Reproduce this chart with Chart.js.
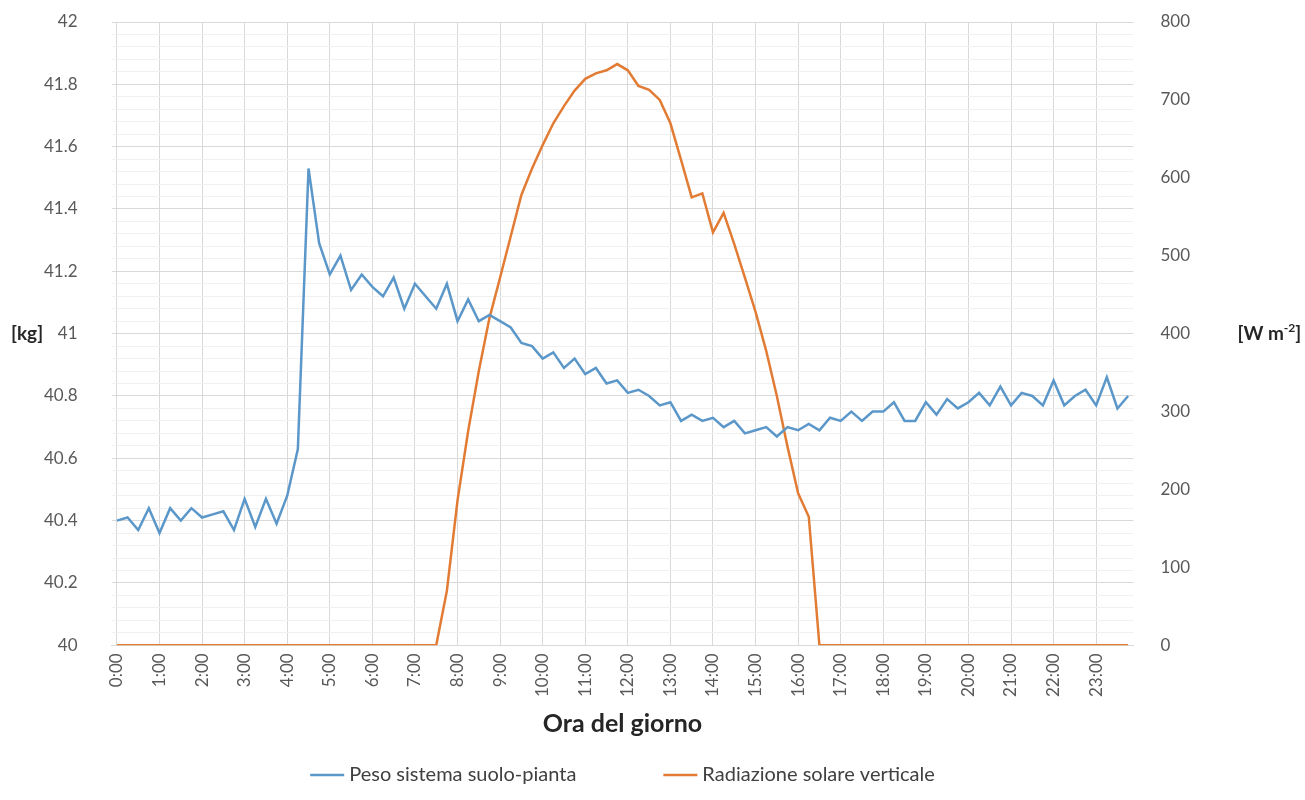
<!DOCTYPE html>
<html>
<head>
<meta charset="utf-8">
<script src="https://cdn.jsdelivr.net/npm/chart.js@4.4.1/dist/chart.umd.min.js"></script>
<style>
  html, body { margin: 0; padding: 0; background: #fff; }
  #wrap { width: 1305px; height: 800px; }
</style>
</head>
<body>
<div id="wrap"><canvas id="myChart" width="1305" height="800"></canvas></div>
<script>
// x categories: one reading every 15 minutes
const times = [];
for (let h = 0; h < 24; h++) {
    for (const m of ['00', '15', '30', '45']) {
        times.push(h + ':' + m);
    }
}

// Peso sistema suolo-pianta [kg]
const weight = [
    40.40, 40.41, 40.37, 40.44, 40.36, 40.44, 40.40, 40.44, 40.41, 40.42, 40.43, 40.37, 40.47, 40.38, 40.47, 40.39,
    40.48, 40.63, 41.53, 41.29, 41.19, 41.25, 41.14, 41.19, 41.15, 41.12, 41.18, 41.08, 41.16, 41.12, 41.08, 41.16,
    41.04, 41.11, 41.04, 41.06, 41.04, 41.02, 40.97, 40.96, 40.92, 40.94, 40.89, 40.92, 40.87, 40.89, 40.84, 40.85,
    40.81, 40.82, 40.80, 40.77, 40.78, 40.72, 40.74, 40.72, 40.73, 40.70, 40.72, 40.68, 40.69, 40.70, 40.67, 40.70,
    40.69, 40.71, 40.69, 40.73, 40.72, 40.75, 40.72, 40.75, 40.75, 40.78, 40.72, 40.72, 40.78, 40.74, 40.79, 40.76,
    40.78, 40.81, 40.77, 40.83, 40.77, 40.81, 40.80, 40.77, 40.85, 40.77, 40.80, 40.82, 40.77, 40.86, 40.76, 40.80
];

// Radiazione solare verticale [W m-2]
const radiation = [
    0, 0, 0, 0, 0, 0, 0, 0, 0, 0, 0, 0, 0, 0, 0, 0,
    0, 0, 0, 0, 0, 0, 0, 0, 0, 0, 0, 0, 0, 0, 0, 70,
    186, 275, 352, 420, 472, 525, 578, 612, 642, 670, 692, 712, 727, 734, 738, 746,
    738, 718, 713, 700, 670, 623, 575, 580, 530, 555, 515, 472, 428, 378, 320, 255,
    195, 165, 0, 0, 0, 0, 0, 0, 0, 0, 0, 0, 0, 0, 0, 0,
    0, 0, 0, 0, 0, 0, 0, 0, 0, 0, 0, 0, 0, 0, 0, 0
];

const seriesNames = ['Peso sistema suolo-pianta', 'Radiazione solare verticale'];
const blue = '#5b97c9';
const orange = '#e27c35';

function isMajor(v) {
    return Math.abs(v * 5 - Math.round(v * 5)) < 1e-6;
}

// unit labels next to the axes
const unitLabels = {
    id: 'unitLabels',
    afterDraw(chart) {
        const ctx = chart.ctx;
        ctx.save();
        ctx.fillStyle = '#262626';
        ctx.textBaseline = 'middle';
        ctx.textAlign = 'left';
        ctx.font = 'bold 19px Lato';
        ctx.fillText('[kg]', 11, chart.scales.y.getPixelForValue(41));

        const y = chart.scales.y1.getPixelForValue(400);
        let x = chart.chartArea.right + 104;
        ctx.fillText('[W m', x, y);
        x += ctx.measureText('[W m').width;
        ctx.font = 'bold 12px Lato';
        ctx.fillText('-2', x, y - 6);
        x += ctx.measureText('-2').width;
        ctx.font = 'bold 19px Lato';
        ctx.fillText(']', x, y);
        ctx.restore();
    }
};

// legend drawn along the bottom
const bottomLegend = {
    id: 'bottomLegend',
    afterDraw(chart) {
        const ctx = chart.ctx;
        const sets = chart.data.datasets;
        const lineW = 34, gap = 5, spacing = 87;
        ctx.save();
        ctx.font = '20px Lato';
        let total = 0;
        const widths = sets.map(d => ctx.measureText(d.label).width);
        widths.forEach(w => total += lineW + gap + w);
        total += spacing * (sets.length - 1);
        let x = (chart.chartArea.left + chart.chartArea.right) / 2 - total / 2;
        const y = 775;
        sets.forEach((d, i) => {
            ctx.strokeStyle = d.borderColor;
            ctx.lineWidth = 2.5;
            ctx.beginPath();
            ctx.moveTo(x, y);
            ctx.lineTo(x + lineW, y);
            ctx.stroke();
            ctx.fillStyle = '#404040';
            ctx.textBaseline = 'middle';
            ctx.textAlign = 'left';
            ctx.fillText(d.label, x + lineW + gap, y);
            x += lineW + gap + widths[i] + spacing;
        });
        ctx.restore();
    }
};

const ctx = document.getElementById('myChart').getContext('2d');
const myChart = new Chart(ctx, {
    type: 'line',
    data: {
        labels: times,
        datasets: [{
            label: seriesNames[0],
            data: weight,
            yAxisID: 'y',
            borderColor: blue,
            backgroundColor: blue,
            borderWidth: 2.5,
            pointRadius: 0,
            tension: 0,
            fill: false
        }, {
            label: seriesNames[1],
            data: radiation,
            yAxisID: 'y1',
            borderColor: orange,
            backgroundColor: orange,
            borderWidth: 2.5,
            pointRadius: 0,
            tension: 0,
            fill: false
        }]
    },
    options: {
        responsive: false,
        animation: false,
        layout: {
            padding: { left: 38, right: 110, top: 22, bottom: 61 }
        },
        plugins: {
            legend: { display: false },
            tooltip: { enabled: false }
        },
        scales: {
            x: {
                type: 'category',
                offset: true,
                grid: {
                    color: c => (c.index % 4 === 0 ? '#d9d9d9' : 'rgba(0,0,0,0)'),
                    drawTicks: false
                },
                border: { color: '#d9d9d9' },
                ticks: {
                    autoSkip: false,
                    maxRotation: 90,
                    minRotation: 90,
                    padding: 8,
                    color: '#595959',
                    font: { family: 'Lato', size: 17 },
                    callback: (v, i) => (i % 4 === 0 ? times[i] : '')
                },
                title: {
                    display: true,
                    text: 'Ora del giorno',
                    color: '#262626',
                    font: { family: 'Lato', size: 25, weight: 'bold' },
                    padding: { top: 4, bottom: 0 }
                }
            },
            y: {
                position: 'left',
                min: 40,
                max: 42,
                grid: {
                    color: c => (isMajor(c.tick.value) ? '#d9d9d9' : '#f0f0f0'),
                    drawTicks: true,
                    tickLength: 28,
                    tickColor: 'rgba(0,0,0,0)'
                },
                border: { display: false },
                ticks: {
                    stepSize: 0.04,
                    autoSkip: false,
                    padding: 6,
                    color: '#595959',
                    font: { family: 'Lato', size: 17 },
                    callback: v => (isMajor(v) ? String(Math.round(v * 10) / 10) : '')
                }
            },
            y1: {
                position: 'right',
                min: 0,
                max: 800,
                grid: {
                    drawOnChartArea: false,
                    drawTicks: true,
                    tickLength: 22,
                    tickColor: 'rgba(0,0,0,0)'
                },
                border: { display: false },
                ticks: {
                    stepSize: 100,
                    autoSkip: false,
                    padding: 5,
                    color: '#595959',
                    font: { family: 'Lato', size: 17 }
                }
            }
        }
    },
    plugins: [unitLabels, bottomLegend]
});
</script>
</body>
</html>
